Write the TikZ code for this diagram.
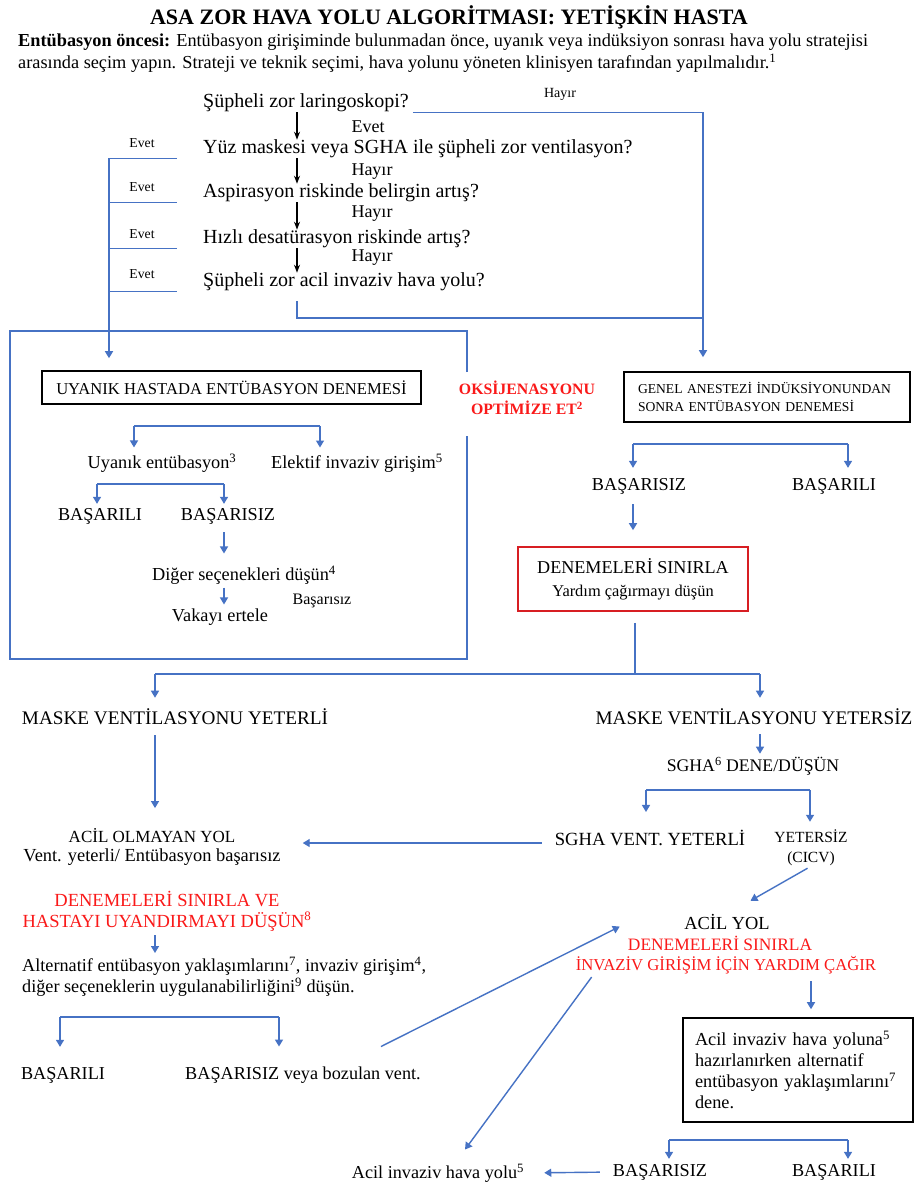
\documentclass[tikz,border=0pt]{standalone}
\usepackage{fontspec}
\setmainfont{Liberation Serif}
\usetikzlibrary{arrows.meta,positioning}
\definecolor{flowblue}{RGB}{70,114,196}
\definecolor{warnred}{RGB}{250,25,25}
\definecolor{boxred}{RGB}{215,30,35}
\tikzset{
  titletxt/.style={font=\fontsize{22}{26}\selectfont\bfseries, inner sep=0pt},
  introtxt/.style={font=\fontsize{18.3}{21}\selectfont, inner sep=0pt, anchor=west},
  qtxt/.style={font=\fontsize{20}{23}\selectfont, inner sep=0pt, anchor=west},
  midlbl/.style={font=\fontsize{18}{20}\selectfont, inner sep=0pt},
  sidelbl/.style={font=\fontsize{13.7}{15}\selectfont, inner sep=0pt},
  txtbig/.style={font=\fontsize{18.2}{21}\selectfont, inner sep=0pt},
  txtmid/.style={font=\fontsize{18.3}{21}\selectfont, inner sep=0pt},
  txtsmall/.style={font=\fontsize{16}{18}\selectfont, inner sep=0pt},
  txtalert/.style={text=warnred},
  blackbox/.style={draw=black, line width=1.6pt},
  bline/.style={draw=flowblue, line width=1.4pt},
  barrow/.style={bline, -{Triangle[width=8pt,length=7pt]}},
  karrow/.style={draw=black, line width=1.1pt, -{Stealth[width=6pt,length=8pt]}}
}
\begin{document}
\begin{tikzpicture}[x=1pt,y=-1pt]
  \fill[white] (0,0) rectangle (917,1187);
  \useasboundingbox (0,0) rectangle (917,1187);

  % title and intro
  \node[titletxt] (title) at (449,17) {ASA ZOR HAVA YOLU ALGORİTMASI: YETİŞKİN HASTA};
  \node[introtxt] (intro1) at (18,42) {\textbf{Entübasyon öncesi:} Entübasyon girişiminde bulunmadan önce, uyanık veya indüksiyon sonrası hava yolu stratejisi};
  \node[introtxt] (intro2) at (18,63) {arasında seçim yapın. Strateji ve teknik seçimi, hava yolunu yöneten klinisyen tarafından yapılmalıdır.\textsuperscript{1}};

  % screening questions
  \node[qtxt] (q1) at (203,103) {Şüpheli zor laringoskopi?};
  \node[qtxt] (q2) at (203,149) {Yüz maskesi veya SGHA ile şüpheli zor ventilasyon?};
  \node[qtxt] (q3) at (203,193) {Aspirasyon riskinde belirgin artış?};
  \node[qtxt] (q4) at (203,239) {Hızlı desatürasyon riskinde artış?};
  \node[qtxt] (q5) at (203,282) {Şüpheli zor acil invaziv hava yolu?};
  \coordinate (dn) at (297,0);
  \coordinate (lcol) at (109,0);
  \coordinate (stubend) at (177,0);
  \coordinate (rcol) at (703,318);

  \draw[karrow] (q1.south -| dn) -- (q2.north -| dn);
  \draw[karrow] (q2.south -| dn) -- (q3.north -| dn);
  \draw[karrow] (q3.south -| dn) -- (q4.north -| dn);
  \draw[karrow] (q4.south -| dn) -- (q5.north -| dn);
  \node[midlbl] (lbl12) at (368,127) {Evet};
  \node[midlbl] (lbl23) at (372,172) {Hayır};
  \node[midlbl] (lbl34) at (372,214) {Hayır};
  \node[midlbl] (lbl45) at (372,258) {Hayır};
  \node[sidelbl, font=\fontsize{14}{15}\selectfont] (lblno) at (560,94) {Hayır};
  \node[sidelbl] (ev2) at (142,143) {Evet};
  \node[sidelbl] (ev3) at (142,187) {Evet};
  \node[sidelbl] (ev4) at (142,234) {Evet};
  \node[sidelbl] (ev5) at (142,274) {Evet};

  % awake branch
  \node[blackbox, font=\fontsize{16.6}{20}\selectfont, minimum width=379pt, minimum height=33pt, inner sep=0pt] (uyanik) at (231.5,387.5) {UYANIK HASTADA ENTÜBASYON DENEMESİ};
  \node[font=\fontsize{15.8}{20}\selectfont\bfseries, inner sep=0pt, txtalert, align=center] (oksi) at (527,398) {OKSİJENASYONU\\OPTİMİZE ET\textsuperscript{2}};
  \node[txtmid] (uyent) at (162,463) {Uyanık entübasyon\textsuperscript{3}};
  \node[txtmid] (elektif) at (357,463) {Elektif invaziv girişim\textsuperscript{5}};
  \node[txtbig] (bas1) at (100,516) {BAŞARILI};
  \node[txtbig] (fail1) at (228,516) {BAŞARISIZ};
  \node[txtmid] (diger) at (244,575) {Diğer seçenekleri düşün\textsuperscript{4}};
  \node[txtmid] (vakayi) at (220,617) {Vakayı ertele};
  \node[txtsmall] (failnote) at (322,601) {Başarısız};

  \foreach \q in {q2,q3,q4,q5}
    \draw[bline] (\q.south -| lcol) -- (\q.south -| stubend);
  \draw[barrow, shorten >=12pt] (q2.south -| lcol) -- (lcol |- uyanik.north);
  \draw[bline] (467,372) -- (467,331) -- (10,331) -- (10,659) -- (467,659) -- (467,436);

  \coordinate (b1l) at (134,426);
  \coordinate (b1r) at (320,426);
  \draw[bline] (b1l) -- (b1r);
  \draw[barrow, shorten >=6pt] (b1l) -- (b1l |- uyent.north);
  \draw[barrow, shorten >=6pt] (b1r) -- (b1r |- elektif.north);
  \coordinate (b2l) at (97,484);
  \coordinate (b2r) at (224,484);
  \draw[bline] (b2l) -- (b2r);
  \draw[barrow, shorten >=4pt] (b2l) -- (b2l |- bas1.north);
  \draw[barrow, shorten >=4pt] (b2r) -- (b2r |- fail1.north);
  \draw[barrow, shorten <=8pt, shorten >=12pt] (fail1.south -| b2r) -- (diger.north -| b2r);
  \draw[barrow, shorten <=3pt, shorten >=4pt] (diger.south -| b2r) -- (vakayi.north -| b2r);

  % induction branch
  \node[blackbox, font=\fontsize{13.6}{18}\selectfont, text width=258pt, align=left, inner xsep=14pt, inner ysep=0pt, minimum height=50pt] (gabox) at (767,397) {GENEL ANESTEZİ İNDÜKSİYONUNDAN\\SONRA ENTÜBASYON DENEMESİ\\[3pt]};
  \draw[bline] ([xshift=4pt]q1.south east) -| (rcol);
  \draw[bline] ([yshift=-10pt]q5.south -| dn) |- (rcol);
  \draw[barrow, shorten >=14pt] (rcol) -- (rcol |- gabox.north);

  \node[txtbig] (fail2) at (639,486) {BAŞARISIZ};
  \node[txtbig] (bas2) at (834,486) {BAŞARILI};
  \coordinate (b3l) at (633,444);
  \coordinate (b3r) at (848,444);
  \draw[bline] (b3l) -- (b3r);
  \draw[barrow, shorten >=10pt] (b3l) -- (b3l |- fail2.north);
  \draw[barrow, shorten >=10pt] (b3r) -- (b3r |- bas2.north);
  \node[draw=boxred, line width=1.6pt, minimum width=230pt, minimum height=64pt, align=center, inner sep=0pt, font=\fontsize{16.4}{23}\selectfont] (redbox) at (633,579)
    {{\fontsize{18.1}{20}\selectfont DENEMELERİ SINIRLA}\\{\fontsize{16.4}{18}\selectfont Yardım çağırmayı düşün}};
  \draw[barrow, shorten <=10pt, shorten >=16pt] (fail2.south -| b3l) -- (redbox.north -| b3l);

  % mask ventilation split
  \coordinate (split) at (635,674);
  \coordinate (sl) at (155,674);
  \coordinate (sr) at (760,674);
  \node[txtbig, font=\fontsize{19.2}{22}\selectfont] (mvy) at (175,717) {MASKE VENTİLASYONU YETERLİ};
  \node[txtbig, font=\fontsize{19.2}{22}\selectfont] (mvx) at (754,717) {MASKE VENTİLASYONU YETERSİZ};
  \draw[bline] ([yshift=-11pt]redbox.south -| split) -- (split);
  \draw[bline] (sl) -- (sr);
  \draw[barrow, shorten >=11pt] (sl) -- (sl |- mvy.north);
  \draw[barrow, shorten >=11pt] (sr) -- (sr |- mvx.north);

  \node[inner sep=0pt, align=center, font=\fontsize{18.4}{19.5}\selectfont] (nonurg) at (152,847) {{\fontsize{17}{19}\selectfont ACİL OLMAYAN YOL}\\{\fontsize{18.4}{20}\selectfont Vent. yeterli/ Entübasyon başarısız}};
  \draw[barrow, shorten <=10pt, shorten >=20pt] (mvy.south -| sl) -- (nonurg.north -| sl);
  \node[txtsmall, font=\fontsize{17.7}{20}\selectfont] (sgha) at (753,766) {SGHA\textsuperscript{6} DENE/DÜŞÜN};
  \draw[barrow, shorten <=9pt, shorten >=3pt] (mvx.south -| sr) -- (sgha.north -| sr);
  \coordinate (b4l) at (646,790);
  \coordinate (b4r) at (810,790);
  \node[txtmid, font=\fontsize{18.6}{21}\selectfont] (sghavent) at (650,838) {SGHA VENT. YETERLİ};
  \node[inner sep=0pt, font=\fontsize{15.5}{20}\selectfont, align=center] (cicv) at (811,848) {YETERSİZ\\(CICV)};
  \draw[bline] (b4l) -- (b4r);
  \draw[barrow, shorten >=18pt] (b4l) -- (b4l |- sghavent.north);
  \draw[barrow, shorten >=8pt] (b4r) -- (b4r |- cicv.north);
  \draw[barrow, shorten <=13pt, shorten >=22pt] ([yshift=-5pt]sghavent.west) -- ([yshift=-5pt]sghavent.west -| nonurg.east);

  % non-urgent pathway
  \node[inner sep=0pt, font=\fontsize{18.5}{21}\selectfont, txtalert, align=center] (wake) at (167,911) {DENEMELERİ SINIRLA VE\\HASTAYI UYANDIRMAYI DÜŞÜN\textsuperscript{8}};
  \node[inner sep=0pt, align=left, anchor=west, font=\fontsize{18.2}{21}\selectfont] (altern) at (22,977) {Alternatif entübasyon yaklaşımlarını\textsuperscript{7}, invaziv girişim\textsuperscript{4},\\diğer seçeneklerin uygulanabilirliğini\textsuperscript{9} düşün.};
  \draw[barrow, shorten <=4pt, shorten >=4pt] (wake.south -| sl) -- (altern.north -| sl);
  \coordinate (b6l) at (60,1017);
  \coordinate (b6r) at (279,1017);
  \node[txtbig] (bas4) at (63,1075) {BAŞARILI};
  \node[txtbig] (bozulan) at (303,1075) {BAŞARISIZ veya bozulan vent.};
  \draw[bline] (b6l) -- (b6r);
  \draw[barrow, shorten >=20pt] (b6l) -- (b6l |- bas4.north);
  \draw[barrow, shorten >=20pt] (b6r) -- (b6r |- bozulan.north);

  % emergency pathway
  \node[txtmid, font=\fontsize{18.4}{20}\selectfont] (acil1) at (727,922) {ACİL YOL};
  \node[txtmid, font=\fontsize{17.4}{20}\selectfont, txtalert] (acil2) at (720,943) {DENEMELERİ SINIRLA};
  \node[txtmid, font=\fontsize{16.7}{20}\selectfont, txtalert] (acil3) at (726,965) {İNVAZİV GİRİŞİM İÇİN YARDIM ÇAĞIR};
  \draw[barrow, shorten <=4pt, shorten >=27pt] (cicv.south) -- (acil1.north);
  \draw[barrow] ([xshift=78pt,yshift=20pt]bozulan.north) -- ([xshift=-8pt,yshift=9pt]acil2.north west);
  \node[blackbox, font=\fontsize{18.3}{21}\selectfont, text width=206pt, align=left, inner xsep=12pt, minimum width=230pt, minimum height=104pt] (acilbox) at (798,1070)
    {Acil invaziv hava yoluna\textsuperscript{5}\\hazırlanırken alternatif\\entübasyon yaklaşımlarını\textsuperscript{7}\\dene.};
  \coordinate (rc2) at (811,0);
  \draw[barrow, shorten <=7pt, shorten >=8pt] (acil3.south -| rc2) -- (acilbox.north -| rc2);
  \node[txtbig] (fail5) at (660,1172) {BAŞARISIZ};
  \node[txtbig] (bas5) at (834,1172) {BAŞARILI};
  \coordinate (b5l) at (669,1140);
  \coordinate (b5r) at (848,1140);
  \draw[bline] (b5l) -- (b5r);
  \draw[barrow, shorten >=5pt] (b5l) -- (b5l |- fail5.north);
  \draw[barrow, shorten >=5pt] (b5r) -- (b5r |- bas5.north);
  \node[txtmid, font=\fontsize{18.2}{20}\selectfont] (invaziv) at (438,1173) {Acil invaziv hava yolu\textsuperscript{5}};
  \draw[barrow, shorten <=13pt, shorten >=20pt] (fail5.west) -- (invaziv.east);
  \draw[barrow] ([xshift=16pt,yshift=-3pt]acil3.south west) -- ([xshift=27pt,yshift=14pt]invaziv.north);
\end{tikzpicture}
\end{document}
